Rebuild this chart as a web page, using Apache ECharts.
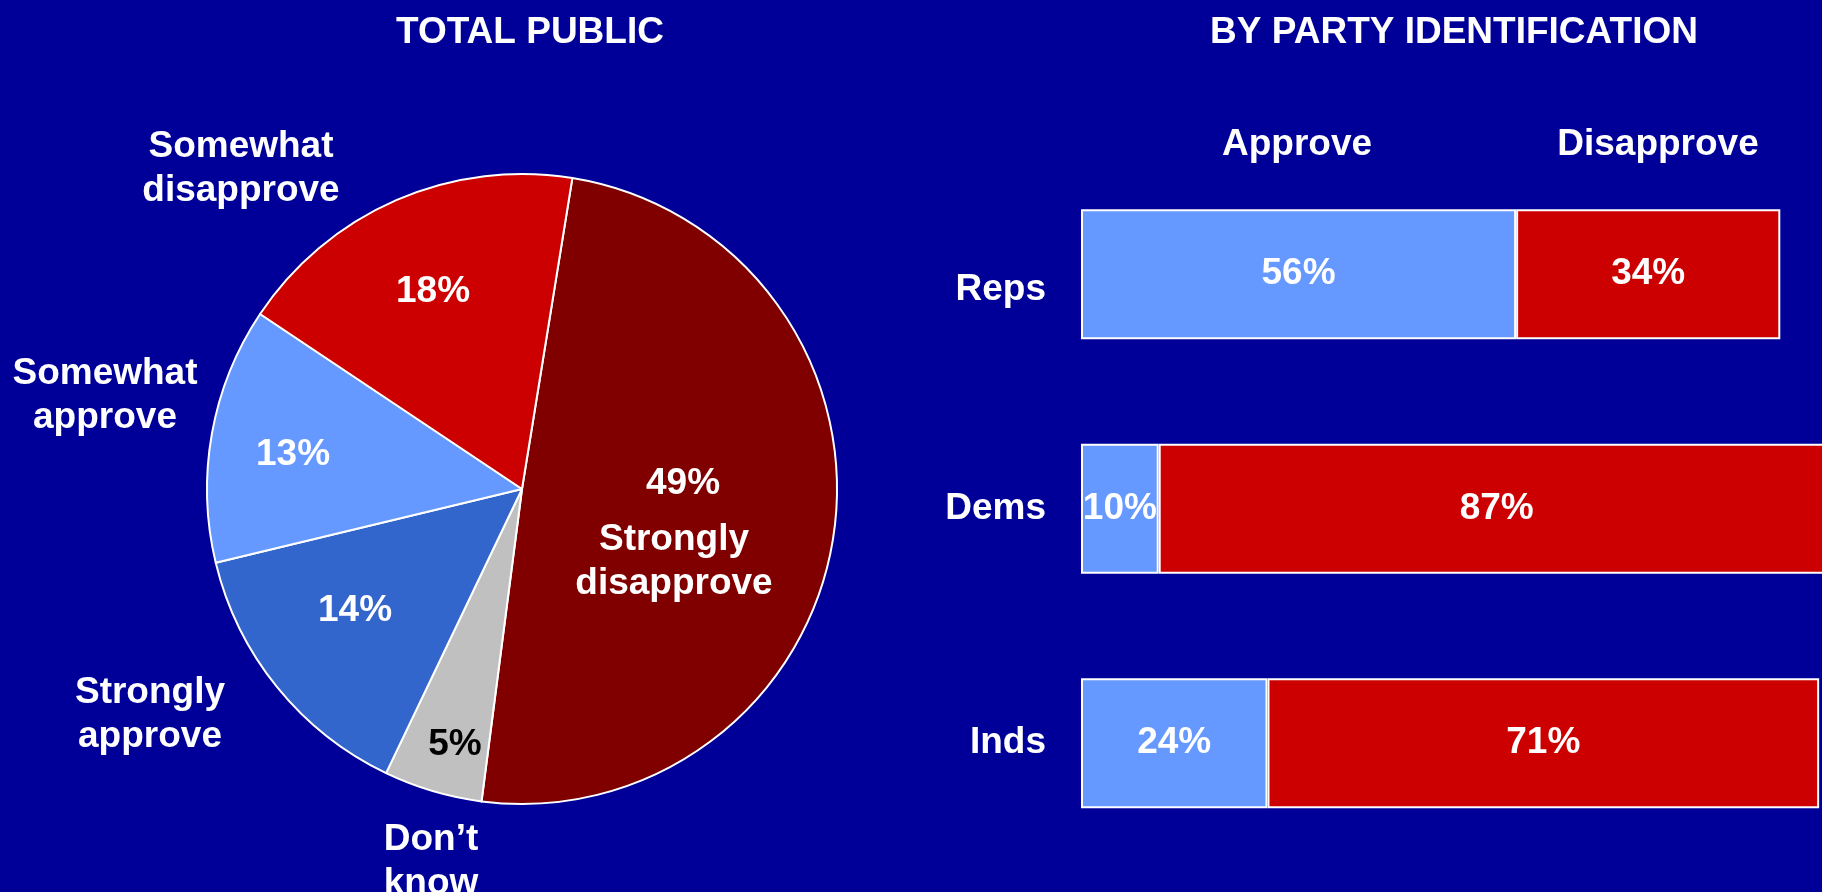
<!DOCTYPE html>
<html>
<head>
<meta charset="utf-8">
<script src="https://cdn.jsdelivr.net/npm/echarts@6/dist/echarts.min.js"></script>
<style>
html,body{margin:0;padding:0;background:#000099;}
#c{width:1822px;height:892px;}
</style>
</head>
<body>
<div id="c"></div>
<script>
// ---- data ----
const pieNames = ['Strongly disapprove', 'Don\u2019t know', 'Strongly approve', 'Somewhat approve', 'Somewhat disapprove'];
const pieLabelNames = ['Strongly\ndisapprove', 'Don\u2019t\nknow', 'Strongly\napprove', 'Somewhat\napprove', 'Somewhat\ndisapprove'];
const pieValues = [49, 5, 14, 13, 18];
const barCategories = ['Reps', 'Dems', 'Inds'];
const approveValues = [56, 10, 24];
const disapproveValues = [34, 87, 71];
const barSeriesNames = ['Approve', 'Disapprove'];
const titles = ['TOTAL PUBLIC', 'BY PARTY IDENTIFICATION'];

// ---- style ----
const FONT = '"Liberation Sans", Arial, sans-serif';
const pieColors = ['#800000', '#C0C0C0', '#3366CC', '#6699FF', '#CC0000'];
const pctColors = ['#fff', '#000', '#fff', '#fff', '#fff'];
const PC = [522, 489], PR = 315;
const pctOffsets = [[161, -5], [-67, 256], [-167, 122], [-229, -34], [-89, -197]];
const nameOffsets = [[152, 73], [-91, 373], [-372, 226], [-417, -93], [-281, -320]];
const catLabelStyle = ['low', 'n', 'n'];

const chart = echarts.init(document.getElementById('c'));

const txt = (x, y, t) => ({
  type: 'text', x: x, y: y, silent: true,
  style: { text: t, fill: '#fff', font: 'bold 37px ' + FONT, textAlign: 'center', textVerticalAlign: 'middle' }
});

const catFont = { color: '#fff', fontSize: 37, fontWeight: 'bold', fontFamily: FONT };

chart.setOption({
  backgroundColor: '#000099',
  animation: false,
  graphic: [
    txt(530, 33, titles[0]),
    txt(1454, 33, titles[1]),
    txt(1297, 145, barSeriesNames[0]),
    txt(1658, 145, barSeriesNames[1])
  ],
  grid: { left: 1081, top: 157, width: 777, height: 703.5, containLabel: false, outerBoundsMode: 'none' },
  xAxis: { type: 'value', min: 0, max: 100, show: false },
  yAxis: {
    type: 'category', inverse: true, data: barCategories,
    axisLine: { show: false }, axisTick: { show: false }, splitLine: { show: false },
    axisLabel: Object.assign({
      margin: 35,
      formatter: (v, i) => '{' + catLabelStyle[i] + '|' + v + '}',
      rich: {
        low: Object.assign({ padding: [31, 0, 0, 0] }, catFont),
        n: Object.assign({}, catFont)
      }
    }, catFont)
  },
  series: [
    {
      type: 'pie', center: PC, radius: PR, startAngle: 80.8, clockwise: true,
      silent: true, z: 2,
      data: pieNames.map((n, i) => ({
        name: n, value: pieValues[i],
        itemStyle: { color: pieColors[i] },
        label: { color: pctColors[i] }
      })),
      itemStyle: { borderColor: '#fff', borderWidth: 2 },
      label: {
        show: true, position: 'inside', formatter: '{c}%',
        fontSize: 37, fontWeight: 'bold', fontFamily: FONT
      },
      labelLine: { show: false },
      labelLayout: p => ({ x: PC[0] + pctOffsets[p.dataIndex][0], y: PC[1] + pctOffsets[p.dataIndex][1] })
    },
    {
      type: 'pie', center: PC, radius: PR, startAngle: 80.8, clockwise: true,
      silent: true, z: 3,
      data: pieNames.map((n, i) => ({ name: pieLabelNames[i], value: pieValues[i] })),
      itemStyle: { color: 'rgba(0,0,0,0)', borderWidth: 0 },
      label: {
        show: true, position: 'inside', formatter: '{b}', color: '#fff',
        fontSize: 37, fontWeight: 'bold', fontFamily: FONT, lineHeight: 44, align: 'center'
      },
      labelLine: { show: false },
      labelLayout: p => ({ x: PC[0] + nameOffsets[p.dataIndex][0], y: PC[1] + nameOffsets[p.dataIndex][1] })
    },
    {
      type: 'bar', name: barSeriesNames[0], stack: 's', data: approveValues, barWidth: 130,
      itemStyle: { color: '#6699FF', borderColor: '#fff', borderWidth: 2 },
      label: { show: true, position: 'inside', formatter: '{c}%', color: '#fff', fontSize: 37, fontWeight: 'bold', fontFamily: FONT }
    },
    {
      type: 'bar', name: barSeriesNames[1], stack: 's', data: disapproveValues, barWidth: 130,
      itemStyle: { color: '#CC0000', borderColor: '#fff', borderWidth: 2 },
      label: { show: true, position: 'inside', formatter: '{c}%', color: '#fff', fontSize: 37, fontWeight: 'bold', fontFamily: FONT }
    }
  ]
});
</script>
</body>
</html>
